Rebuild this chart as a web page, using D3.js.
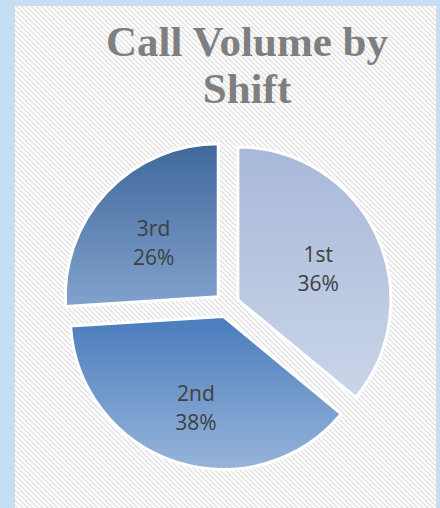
<!DOCTYPE html>
<html>
<head>
<meta charset="utf-8">
<script src="https://cdn.jsdelivr.net/npm/d3@7"></script>
<style>
  body { margin: 0; background: #c5ddf5; }
  svg { display: block; }
</style>
</head>
<body>
<div id="chart"></div>
<script>
// Dades del gràfic
const shifts = ["1st", "2nd", "3rd"];
const shares = [36, 38, 26];
const titleLines = ["Call Volume by", "Shift"];

// Colors de degradat (dalt, baix) per porció
const sliceTop = ["#a8b8d8", "#4a7cbc", "#3f689b"];
const sliceBottom = ["#cad5e8", "#97b4da", "#82a2cd"];

const W = 440, H = 508;
const cx = 227, cy = 305, radius = 153, explode = 12;

const svg = d3.select("#chart")
    .append("svg")
        .attr("width", W)
        .attr("height", H);

const defs = svg.append("defs");

// Patró de ratlles diagonals
const pat = defs.append("pattern")
    .attr("id", "stripes")
    .attr("patternUnits", "userSpaceOnUse")
    .attr("width", 5)
    .attr("height", 5);
pat.append("rect").attr("width", 5).attr("height", 5).attr("fill", "#ffffff");
pat.append("path")
    .attr("d", "M-1,-1 L6,6 M-1,4 L1,6 M4,-1 L6,1")
    .attr("stroke", "#e0e0e0")
    .attr("stroke-width", 1.3);

shifts.forEach((s, i) => {
    const g = defs.append("linearGradient")
        .attr("id", "grad" + i)
        .attr("x1", 0).attr("y1", 0)
        .attr("x2", 0).attr("y2", 1);
    g.append("stop").attr("offset", "0%").attr("stop-color", sliceTop[i]);
    g.append("stop").attr("offset", "100%").attr("stop-color", sliceBottom[i]);
});

// Àrea del gràfic
svg.append("rect")
    .attr("x", 14.5)
    .attr("y", 5.5)
    .attr("width", 422)
    .attr("height", 520)
    .attr("fill", "url(#stripes)")
    .attr("stroke", "#d9d9d9")
    .attr("stroke-width", 1);

// Títol
svg.append("text")
    .attr("x", 247)
    .attr("y", 56)
    .attr("text-anchor", "middle")
    .style("font-family", "'Liberation Serif', serif")
    .style("font-weight", "bold")
    .style("font-size", "43px")
    .style("fill", "#7f7f7f")
    .selectAll("tspan")
    .data(titleLines)
    .enter()
    .append("tspan")
        .attr("x", 247)
        .attr("dy", (d, i) => i === 0 ? 0 : 47)
        .text(d => d);

// Pastís
const data = shifts.map((s, i) => ({ name: s, value: shares[i], idx: i }));
const pie = d3.pie().sort(null).value(d => d.value);
const arcs = pie(data);

const arc = d3.arc().innerRadius(0).outerRadius(radius);
const labelArc = d3.arc().innerRadius(radius * 0.58).outerRadius(radius * 0.58);

const slices = svg.append("g")
    .attr("transform", `translate(${cx}, ${cy})`)
    .selectAll("g")
    .data(arcs)
    .enter()
    .append("g")
        .attr("transform", d => {
            const a = (d.startAngle + d.endAngle) / 2;
            return `translate(${explode * Math.sin(a)}, ${-explode * Math.cos(a)})`;
        });

slices.append("path")
    .attr("d", arc)
    .attr("fill", d => `url(#grad${d.data.idx})`)
    .attr("stroke", "#ffffff")
    .attr("stroke-width", 3)
    .attr("stroke-linejoin", "round");

// Etiquetes
slices.append("text")
    .attr("transform", d => `translate(${labelArc.centroid(d)})`)
    .attr("text-anchor", "middle")
    .style("font-family", "'Open Sans', sans-serif")
    .style("font-size", "21px")
    .style("fill", "#404040")
    .each(function(d) {
        const t = d3.select(this);
        t.append("tspan").attr("x", 0).attr("dy", 0).text(d.data.name);
        t.append("tspan").attr("x", 0).attr("dy", 29).text(d.data.value + "%");
    });
</script>
</body>
</html>
